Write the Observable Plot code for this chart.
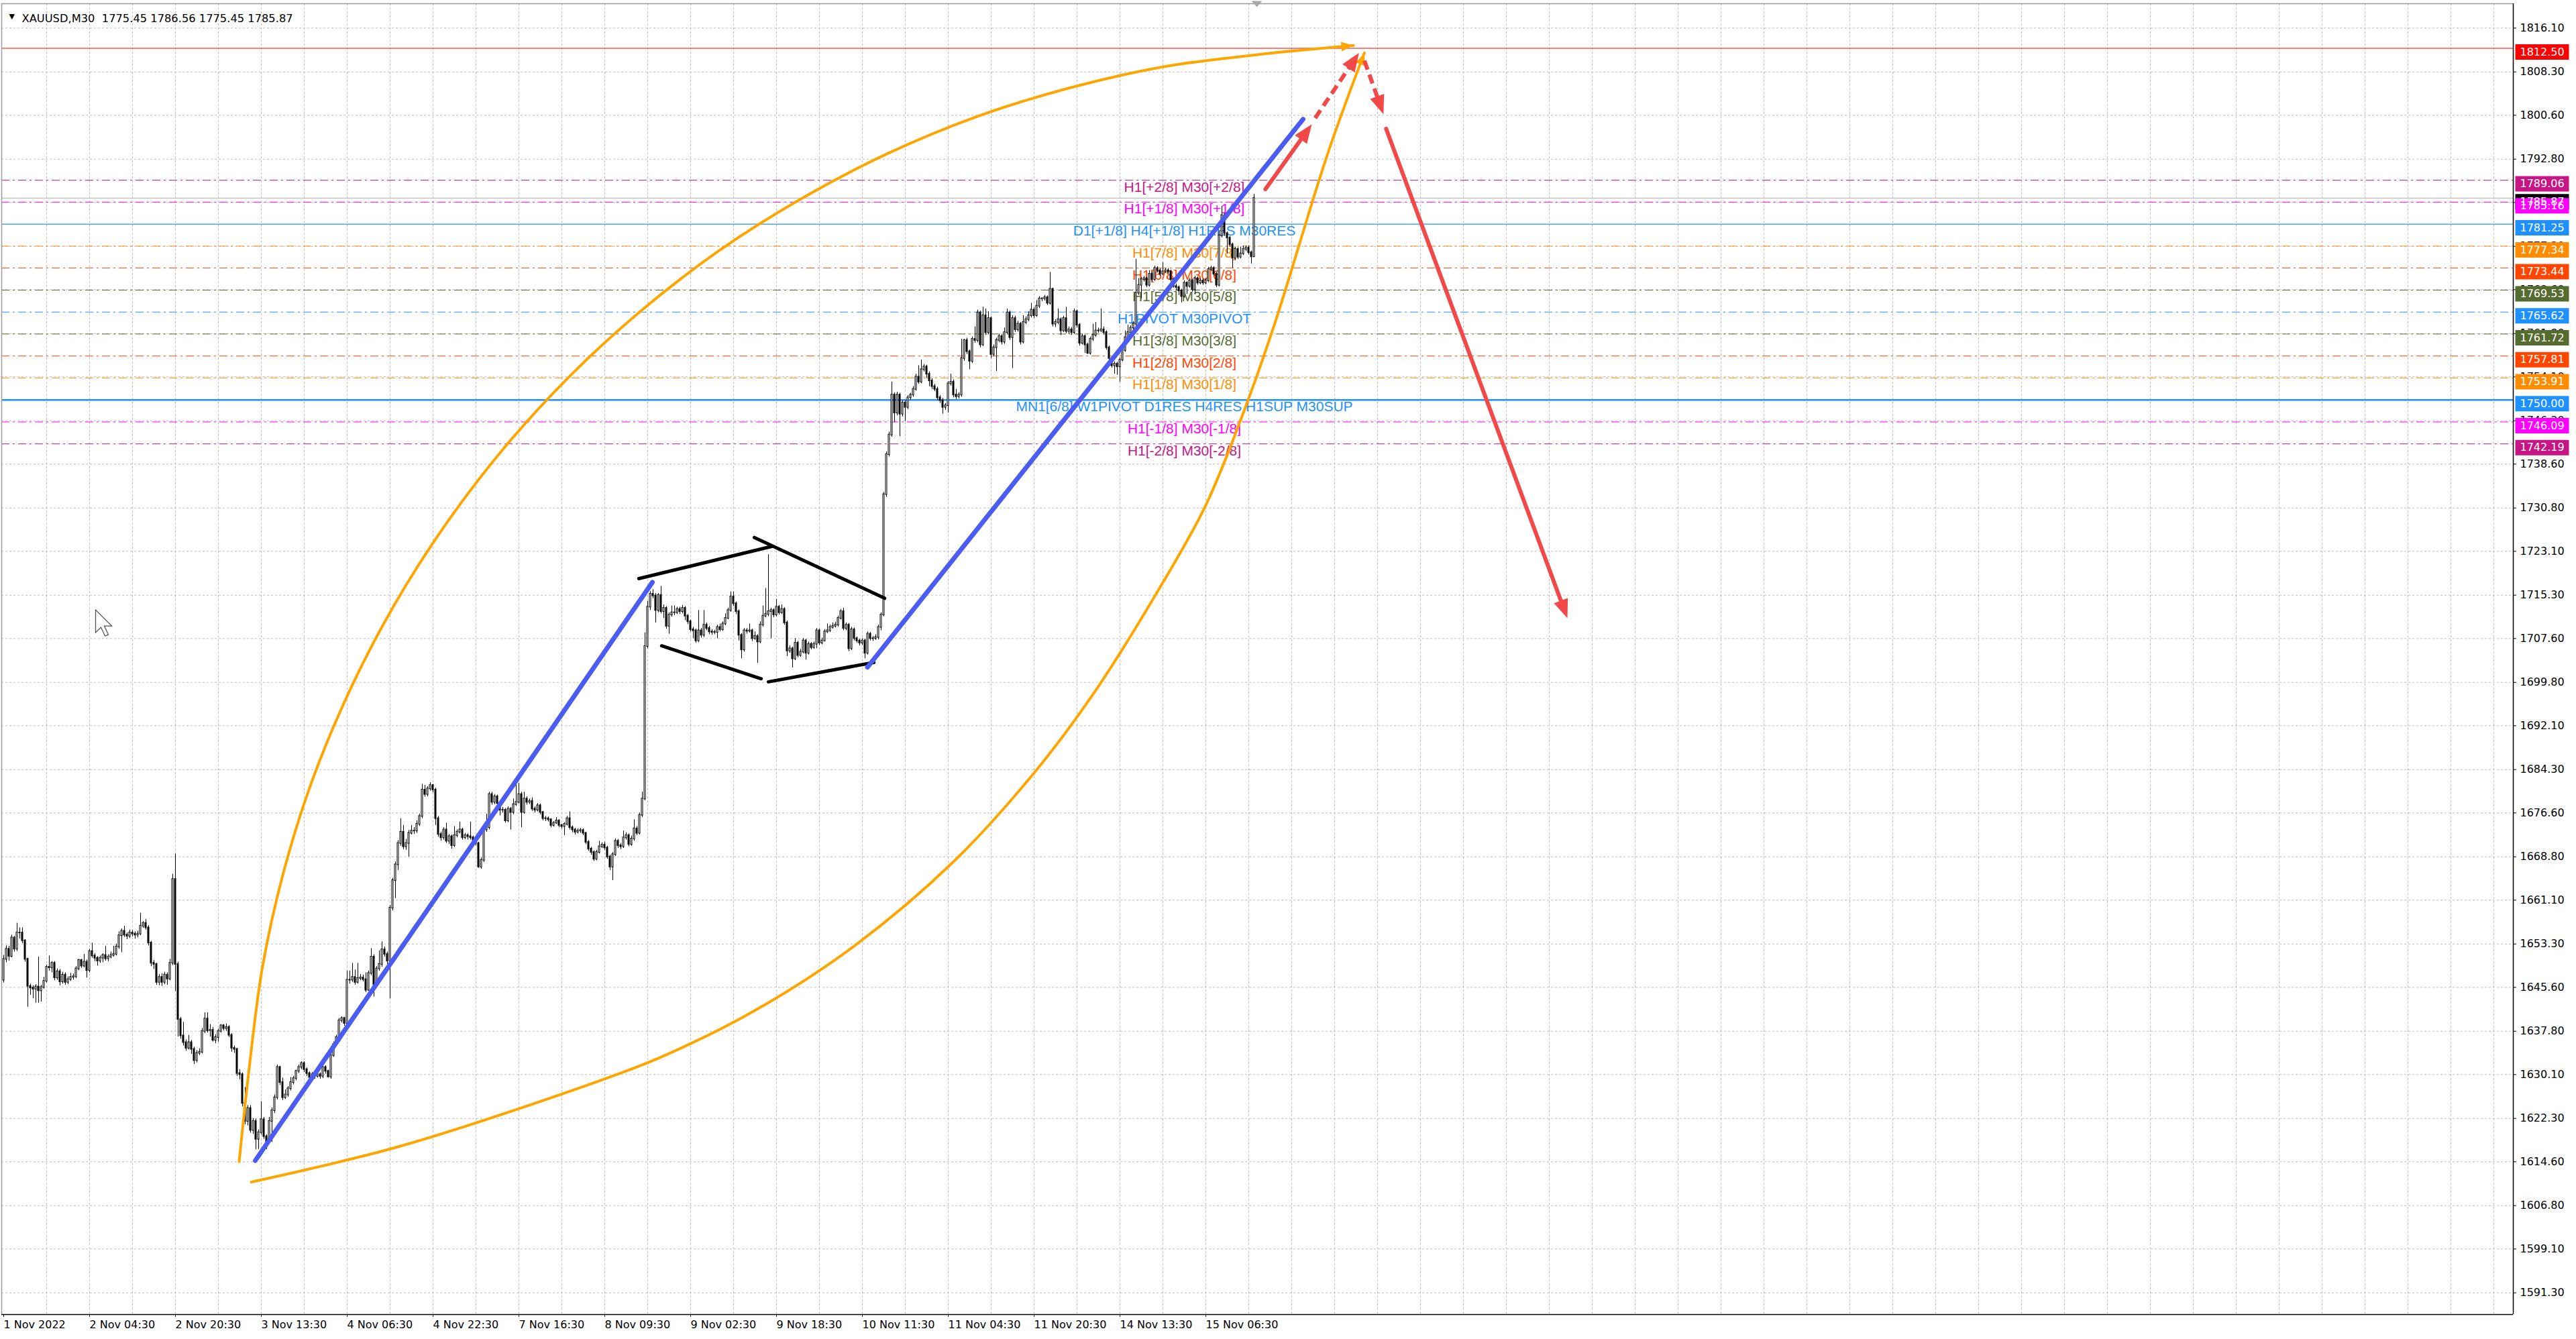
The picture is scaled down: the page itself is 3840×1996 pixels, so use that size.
<!DOCTYPE html>
<html>
<head>
<meta charset="utf-8">
<script src="https://cdn.jsdelivr.net/npm/d3@7"></script>
<script src="https://cdn.jsdelivr.net/npm/@observablehq/plot@0.6"></script>
<style>
html, body { margin: 0; padding: 0; background: #ffffff; overflow: hidden; }
#chart svg { display: block; }
</style>
</head>
<body>
<div id="chart"></div>
<script>
// ================= DATA =================
const symbolName = "XAUUSD";
const timeframe = "M30";
const firstOpen = 1646.9;

const closes = [
1650.6,1652.4,1651.1,1654.4,1652.4,1655.3,1655.3,1653.9,1650.6,1645.8,
1645.5,1645.3,1645.7,1645.0,1645.6,1646.7,1649.2,1649.1,1649.9,1647.3,
1648.4,1646.6,1647.8,1646.5,1647.0,1647.4,1647.5,1648.9,1650.4,1649.4,
1650.1,1648.6,1652.0,1651.2,1650.8,1650.3,1650.8,1651.3,1650.7,1651.0,
1651.3,1651.5,1652.8,1654.8,1655.6,1654.9,1654.7,1655.3,1655.1,1654.9,
1655.1,1656.5,1657.0,1656.2,1653.5,1649.9,1649.7,1646.5,1647.4,1646.5,
1647.8,1647.1,1649.9,1664.8,1649.7,1639.9,1637.0,1635.8,1634.8,1635.8,
1634.6,1632.6,1633.9,1634.1,1637.8,1640.0,1637.9,1638.0,1636.2,1636.7,
1637.8,1638.8,1638.3,1638.5,1637.1,1634.8,1634.6,1630.3,1630.1,1625.0,
1621.8,1624.1,1620.2,1621.8,1618.6,1619.8,1622.1,1619.1,1618.2,1621.8,
1623.7,1626.0,1631.4,1628.7,1626.0,1626.5,1627.6,1628.7,1629.4,1630.7,
1631.4,1632.1,1631.0,1630.3,1629.6,1630.1,1629.8,1630.1,1629.8,1631.4,
1630.7,1629.7,1633.5,1635.5,1636.7,1639.7,1640.1,1639.2,1646.9,1646.9,
1647.4,1646.5,1647.2,1647.3,1647.0,1645.1,1648.1,1651.0,1646.1,1648.9,
1649.7,1652.3,1651.5,1650.3,1659.7,1664.6,1667.4,1671.2,1673.2,1670.6,
1671.2,1673.0,1673.4,1673.4,1674.6,1676.0,1680.7,1679.9,1680.9,1681.5,
1680.7,1675.6,1672.8,1672.2,1673.6,1671.6,1672.4,1670.8,1672.6,1673.2,
1673.6,1672.2,1672.6,1672.4,1672.2,1671.8,1671.2,1667.0,1668.2,1673.6,
1674.0,1679.9,1678.5,1679.5,1678.3,1677.1,1677.1,1675.2,1677.3,1676.7,
1678.1,1678.5,1679.9,1676.7,1679.1,1678.5,1678.7,1677.3,1677.1,1677.9,
1676.7,1675.6,1675.6,1675.4,1674.4,1674.8,1675.2,1674.4,1674.2,1674.6,
1675.6,1674.0,1673.6,1673.2,1673.4,1673.5,1673.0,1671.4,1670.2,1669.6,
1668.4,1669.6,1670.6,1670.9,1670.4,1668.8,1667.0,1669.2,1671.6,1670.8,
1670.6,1672.2,1672.6,1671.0,1672.0,1673.8,1673.0,1676.2,1679.1,1706.2,
1713.2,1715.5,1715.2,1712.6,1715.3,1712.4,1713.0,1709.8,1711.8,1712.2,
1712.2,1712.8,1712.4,1713.0,1711.6,1710.6,1709.2,1709.0,1707.2,1709.0,
1708.2,1710.0,1709.4,1708.8,1708.7,1708.7,1709.6,1709.2,1710.2,1711.2,
1712.6,1715.0,1713.8,1712.4,1708.2,1705.6,1709.0,1708.9,1709.0,1707.6,
1708.0,1707.0,1710.0,1711.6,1711.9,1712.4,1712.6,1711.8,1713.2,1712.2,
1712.8,1710.4,1705.4,1705.8,1704.0,1706.8,1704.6,1705.2,1707.2,1705.0,
1706.6,1706.0,1706.6,1709.0,1706.8,1707.2,1708.8,1709.0,1709.6,1709.8,
1710.0,1711.2,1712.4,1709.4,1710.0,1705.8,1709.2,1707.6,1707.2,1706.8,
1707.2,1705.0,1708.4,1707.6,1707.6,1707.8,1709.6,1711.8,1733.2,1740.3,
1743.8,1750.9,1747.7,1750.9,1747.5,1749.5,1748.7,1750.4,1750.9,1751.9,
1754.1,1753.2,1755.4,1755.9,1754.6,1753.4,1752.4,1751.9,1750.4,1749.9,
1748.7,1749.0,1752.9,1753.2,1750.9,1750.6,1750.9,1757.4,1760.6,1758.6,
1756.9,1760.8,1760.6,1765.5,1759.8,1765.0,1762.0,1764.5,1758.1,1759.3,
1760.6,1761.3,1760.3,1762.0,1765.5,1761.1,1764.5,1762.5,1763.5,1760.3,
1763.8,1764.3,1765.0,1766.0,1765.0,1766.7,1768.0,1768.0,1768.2,1767.2,
1769.7,1763.5,1763.8,1764.3,1762.3,1764.5,1762.2,1762.5,1762.0,1765.7,
1763.3,1760.1,1761.3,1759.8,1758.3,1760.8,1761.5,1762.3,1762.3,1762.5,
1762.0,1759.3,1757.4,1756.1,1756.4,1755.9,1757.1,1758.8,1761.1,1762.0,
1762.8,1763.5,1769.0,1770.4,1771.4,1771.6,1770.4,1772.4,1771.4,1773.4,
1773.0,1772.4,1772.8,1773.0,1772.8,1771.4,1770.2,1770.0,1769.4,1768.4,
1770.8,1770.2,1771.2,1769.6,1771.6,1770.8,1771.2,1770.8,1771.2,1773.2,
1773.4,1772.4,1770.4,1779.2,1782.8,1779.6,1778.8,1777.6,1775.2,1776.8,
1775.4,1776.0,1776.8,1777.0,1776.2,1775.45,1785.87
];

const highs = [
1651.3,1653.0,1652.9,1654.9,1654.7,1657.0,1656.2,1656.2,1654.1,1650.8,
1646.2,1645.9,1646.1,1651.0,1646.0,1647.4,1649.6,1651.2,1650.2,1650.2,
1648.9,1648.8,1648.3,1648.2,1647.5,1648.1,1648.0,1649.3,1650.6,1650.6,
1651.5,1650.5,1652.4,1653.5,1651.6,1651.1,1651.2,1651.6,1652.9,1651.4,
1651.9,1652.9,1653.3,1655.5,1656.0,1656.5,1655.3,1655.8,1655.7,1655.5,
1655.6,1658.8,1657.3,1657.7,1656.6,1653.8,1650.4,1649.9,1647.9,1648.0,
1648.3,1648.2,1650.6,1665.7,1669.3,1650.1,1640.3,1639.4,1636.3,1637.1,
1636.2,1635.0,1634.4,1634.7,1638.3,1641.1,1641.1,1639.0,1638.5,1637.2,
1638.2,1639.0,1639.0,1639.1,1638.8,1637.4,1635.2,1634.8,1631.0,1630.4,
1627.8,1624.6,1624.6,1622.3,1622.2,1620.3,1625.3,1622.5,1619.4,1622.5,
1624.2,1626.5,1631.8,1631.6,1629.5,1627.4,1628.0,1629.6,1629.8,1630.9,
1631.8,1632.4,1632.4,1631.3,1630.6,1630.5,1630.4,1630.6,1630.4,1631.6,
1631.7,1630.9,1633.9,1635.9,1637.1,1640.1,1640.4,1640.3,1648.5,1648.5,
1649.9,1648.7,1649.9,1647.9,1647.8,1648.2,1648.5,1652.5,1651.4,1649.3,
1652.1,1653.7,1652.8,1651.9,1660.2,1665.0,1667.9,1671.7,1675.6,1674.4,
1671.9,1673.5,1674.4,1674.0,1675.2,1676.4,1681.7,1681.5,1681.3,1682.0,
1681.7,1681.0,1676.0,1673.2,1674.0,1674.8,1672.8,1672.7,1674.2,1673.6,
1675.0,1673.9,1673.0,1672.9,1675.0,1672.5,1672.1,1671.4,1668.6,1674.0,
1676.4,1680.3,1680.3,1679.9,1679.8,1678.6,1677.6,1677.4,1677.7,1677.6,
1679.1,1681.9,1681.9,1680.3,1680.3,1679.5,1679.1,1679.3,1677.7,1678.3,
1678.2,1676.9,1676.0,1675.9,1675.6,1675.1,1675.8,1675.4,1674.6,1674.9,
1676.0,1676.8,1674.3,1673.9,1673.8,1673.9,1673.8,1673.2,1671.7,1670.5,
1669.9,1670.0,1671.6,1671.3,1671.4,1670.7,1669.1,1669.6,1672.0,1671.9,
1671.2,1673.4,1673.1,1672.9,1672.5,1675.4,1674.2,1676.6,1680.3,1708.6,
1714.2,1716.0,1716.3,1715.6,1715.6,1716.9,1713.6,1713.3,1712.2,1713.4,
1713.4,1713.2,1713.2,1713.5,1713.3,1711.9,1710.9,1709.6,1709.3,1712.6,
1709.4,1712.6,1710.4,1709.8,1709.2,1709.1,1710.0,1710.2,1710.6,1712.0,
1713.0,1715.9,1715.9,1714.1,1712.7,1708.5,1709.4,1709.4,1710.2,1709.3,
1708.8,1708.3,1710.6,1713.4,1716.5,1722.5,1713.0,1712.9,1714.6,1713.5,
1713.6,1713.1,1710.7,1706.3,1706.1,1707.6,1707.1,1705.7,1707.6,1707.5,
1707.0,1706.9,1707.0,1709.4,1709.3,1707.7,1709.2,1710.2,1710.0,1710.4,
1710.5,1711.6,1712.8,1713.0,1710.4,1710.3,1709.6,1709.5,1707.9,1707.5,
1707.6,1707.5,1708.8,1708.7,1708.0,1708.3,1710.0,1712.2,1733.6,1740.8,
1744.3,1753.2,1751.3,1751.4,1751.2,1749.9,1749.9,1750.8,1751.2,1752.4,
1754.6,1756.1,1757.1,1756.3,1756.2,1755.0,1753.8,1752.8,1752.3,1750.8,
1750.3,1749.4,1753.3,1754.6,1753.6,1751.9,1751.3,1760.8,1760.8,1761.0,
1758.9,1761.2,1763.0,1766.0,1765.8,1766.5,1766.2,1765.7,1764.8,1759.8,
1761.0,1761.7,1761.6,1762.8,1766.2,1765.8,1765.0,1764.9,1764.0,1763.8,
1765.0,1764.8,1765.7,1767.2,1766.4,1767.7,1768.4,1768.2,1768.6,1768.5,
1772.7,1769.9,1764.3,1766.2,1764.6,1764.9,1766.5,1763.0,1762.9,1766.2,
1766.0,1763.6,1761.7,1761.6,1760.1,1761.2,1763.5,1763.8,1762.8,1766.2,
1763.0,1762.3,1759.6,1757.7,1756.8,1756.7,1757.5,1759.8,1762.3,1763.3,
1763.2,1763.9,1775.0,1771.6,1771.8,1772.0,1771.9,1773.0,1772.8,1773.8,
1773.7,1773.3,1774.4,1773.4,1773.4,1773.1,1771.7,1770.6,1770.3,1769.7,
1771.2,1771.0,1771.6,1771.5,1772.0,1771.9,1771.6,1771.5,1771.6,1773.6,
1773.8,1773.7,1772.7,1780.0,1784.4,1783.2,1779.9,1779.1,1777.9,1777.2,
1777.1,1777.2,1777.4,1777.4,1777.4,1776.5,1786.56
];

const lows = [
1646.4,1650.0,1650.3,1650.9,1651.9,1652.0,1654.2,1653.4,1650.1,1642.1,
1644.2,1643.6,1642.8,1642.8,1643.0,1645.3,1646.4,1648.5,1648.2,1646.8,
1646.9,1645.9,1646.2,1646.0,1646.1,1646.7,1646.9,1647.2,1648.6,1649.0,
1649.1,1647.3,1648.2,1650.8,1650.2,1649.4,1649.9,1650.0,1650.3,1650.2,
1650.7,1651.0,1651.2,1652.4,1651.8,1654.5,1654.1,1654.3,1654.6,1654.2,
1654.4,1654.8,1656.1,1655.8,1653.0,1649.3,1648.8,1646.0,1645.9,1645.8,
1646.1,1646.0,1646.8,1649.5,1644.9,1636.8,1636.4,1635.2,1634.3,1634.5,
1633.7,1631.9,1632.2,1633.5,1633.8,1637.4,1637.5,1636.8,1635.9,1635.6,
1635.9,1637.5,1637.9,1637.8,1636.7,1634.1,1633.9,1629.8,1629.2,1624.4,
1621.2,1621.0,1619.7,1619.5,1616.8,1616.8,1619.4,1618.6,1616.8,1617.9,
1618.1,1623.2,1625.6,1628.2,1625.5,1625.7,1626.1,1627.2,1628.3,1629.0,
1630.3,1631.0,1630.5,1629.8,1629.1,1629.2,1629.3,1629.5,1629.3,1629.4,
1630.2,1629.5,1629.3,1633.2,1635.1,1636.4,1639.3,1638.7,1638.9,1646.2,
1646.5,1646.0,1646.2,1646.8,1646.6,1644.7,1644.9,1647.7,1643.9,1645.7,
1648.5,1649.2,1651.0,1649.7,1643.6,1659.2,1661.4,1666.4,1670.7,1670.1,
1670.0,1668.8,1672.7,1672.8,1673.0,1674.2,1675.6,1679.4,1679.5,1680.5,
1680.2,1674.4,1672.3,1671.6,1671.8,1671.2,1671.0,1670.2,1670.5,1672.2,
1672.9,1671.8,1671.9,1671.8,1671.8,1671.3,1670.8,1666.8,1666.6,1667.8,
1673.2,1673.6,1678.0,1678.1,1677.8,1676.1,1676.6,1674.8,1674.9,1673.6,
1676.3,1677.8,1678.2,1674.0,1676.4,1678.0,1678.1,1676.9,1676.6,1676.8,
1676.3,1675.2,1675.1,1675.0,1674.0,1674.1,1674.6,1674.0,1673.8,1672.6,
1674.3,1673.6,1673.1,1672.7,1672.9,1673.0,1672.6,1671.0,1669.8,1669.1,
1668.0,1668.1,1669.3,1670.3,1670.0,1668.4,1666.4,1664.6,1668.9,1670.3,
1670.1,1670.3,1671.8,1670.6,1670.7,1671.6,1672.6,1672.7,1675.8,1678.8,
1705.8,1712.6,1714.7,1710.4,1712.2,1712.0,1711.2,1709.3,1708.4,1711.4,
1711.7,1711.9,1711.9,1712.0,1710.8,1710.1,1708.8,1707.6,1706.8,1706.9,
1707.7,1707.8,1709.0,1708.3,1708.2,1708.3,1707.6,1708.8,1708.9,1709.9,
1711.0,1712.3,1713.3,1711.9,1707.2,1704.0,1705.2,1708.4,1708.6,1707.1,
1707.3,1703.2,1706.7,1709.7,1711.3,1711.5,1707.6,1711.3,1711.5,1711.8,
1711.9,1710.0,1704.4,1705.0,1702.4,1703.7,1704.2,1704.3,1704.9,1703.8,
1704.7,1705.6,1705.7,1705.8,1706.4,1706.5,1707.0,1708.5,1708.7,1709.3,
1709.5,1709.7,1710.9,1709.0,1709.0,1705.3,1705.5,1707.2,1706.8,1706.3,
1706.4,1704.0,1704.7,1707.2,1707.1,1707.3,1707.4,1709.0,1711.5,1732.7,
1739.9,1743.4,1746.0,1747.2,1743.5,1747.0,1746.2,1748.3,1750.0,1750.5,
1751.6,1752.8,1752.9,1755.0,1753.9,1752.4,1751.9,1751.5,1749.9,1749.4,
1747.5,1748.2,1747.7,1752.5,1750.4,1750.1,1750.2,1750.5,1756.9,1758.1,
1755.4,1756.5,1760.1,1760.2,1759.3,1759.5,1761.5,1761.6,1757.4,1757.7,
1755.1,1760.2,1759.8,1759.9,1761.6,1760.6,1755.6,1762.0,1762.1,1759.8,
1760.0,1763.4,1763.9,1764.6,1764.5,1764.7,1766.3,1767.5,1767.6,1766.8,
1766.9,1763.0,1762.9,1763.4,1761.5,1762.0,1761.8,1761.7,1761.5,1761.7,
1762.8,1759.6,1759.8,1758.3,1758.1,1758.0,1760.4,1761.2,1761.9,1762.0,
1761.6,1758.9,1757.1,1755.7,1754.6,1754.4,1753.2,1756.8,1758.5,1760.8,
1761.7,1762.4,1763.1,1768.6,1768.0,1771.0,1770.0,1770.1,1771.0,1771.1,
1772.6,1772.0,1772.1,1772.5,1772.4,1771.0,1769.9,1769.4,1768.6,1767.3,
1768.1,1768.8,1769.9,1769.2,1768.8,1770.4,1770.5,1770.4,1770.5,1770.9,
1772.9,1772.0,1770.0,1770.1,1778.8,1779.1,1776.0,1777.2,1773.4,1774.8,
1775.0,1775.1,1775.7,1776.4,1775.8,1774.2,1775.45
];

// time axis: bar index of each label and its text
const xTickBars = [0, 32, 64, 96, 128, 160, 192, 224, 256, 288, 320, 352, 384, 416, 448];
const xTickLabels = ["1 Nov 2022", "2 Nov 04:30", "2 Nov 20:30", "3 Nov 13:30", "4 Nov 06:30",
  "4 Nov 22:30", "7 Nov 16:30", "8 Nov 09:30", "9 Nov 02:30", "9 Nov 18:30",
  "10 Nov 11:30", "11 Nov 04:30", "11 Nov 20:30", "14 Nov 13:30", "15 Nov 06:30"];

// price axis ticks
const yTicks = [1591.30, 1599.10, 1606.80, 1614.60, 1622.30, 1630.10, 1637.80, 1645.60, 1653.30,
  1661.10, 1668.80, 1676.60, 1684.30, 1692.10, 1699.80, 1707.60, 1715.30, 1723.10, 1730.80,
  1738.60, 1746.30, 1754.10, 1761.80, 1769.60, 1777.30, 1785.10, 1792.80, 1800.60, 1808.30, 1816.10];

// Murrey math levels
const murreyPrices = [1789.06, 1785.16, 1781.25, 1777.34, 1773.44, 1769.53, 1765.62,
  1761.72, 1757.81, 1753.91, 1750.00, 1746.09, 1742.19];
const murreyLabels = ["H1[+2/8] M30[+2/8]", "H1[+1/8] M30[+1/8]", "D1[+1/8] H4[+1/8] H1RES M30RES",
  "H1[7/8] M30[7/8]", "H1[6/8] M30[6/8]", "H1[5/8] M30[5/8]", "H1PIVOT M30PIVOT",
  "H1[3/8] M30[3/8]", "H1[2/8] M30[2/8]", "H1[1/8] M30[1/8]",
  "MN1[6/8] W1PIVOT D1RES H4RES H1SUP M30SUP", "H1[-1/8] M30[-1/8]", "H1[-2/8] M30[-2/8]"];
const resistanceLevel = 1812.50;

// hand-drawn objects (bar index, price)
const blueTrendLines = [
  {x1: 93.75, y1: 1614.8, x2: 241.75, y2: 1717.6},
  {x1: 321.9, y1: 1702.5, x2: 484.25, y2: 1799.9}
];
const triangleLines = [
  {x1: 236.7, y1: 1718.25, x2: 286.25, y2: 1723.97},
  {x1: 279.75, y1: 1725.56, x2: 328.3, y2: 1714.75},
  {x1: 245.2, y1: 1706.3, x2: 282.3, y2: 1700.45},
  {x1: 285.0, y1: 1699.9, x2: 324.3, y2: 1703.35}
];
const upperArc = [
  [87.75,1614.6],[91.7,1632.1],[96.4,1649.1],[104.2,1665.9],[115.0,1682.4],[128.9,1698.3],
  [145.5,1713.5],[164.9,1728.0],[186.9,1741.7],[211.3,1754.4],[237.9,1766.0],[266.5,1776.5],
  [297.0,1785.7],[329.0,1793.7],[362.3,1800.3],[396.8,1805.4],[432.0,1809.2],[467.8,1811.4],[503.0,1813.0]
];
const lowerArc = [
  [92.3,1611.0],[148.75,1617.5],[229.6,1630.3],[248.75,1634.0],[280.4,1641.6],[317.1,1653.0],
  [353.9,1667.9],[384.5,1684.0],[406.7,1698.2],[428.7,1714.9],[447.9,1731.2],[462.2,1748.0],
  [473.5,1763.3],[493.3,1793.6],[507.1,1811.7]
];
const redArrows = [
  {x1: 470.2, y1: 1787.45, x2: 487.5, y2: 1799.0, dashed: false},
  {x1: 488.75, y1: 1800.1, x2: 505.1, y2: 1811.7, dashed: true},
  {x1: 507.1, y1: 1810.3, x2: 514.2, y2: 1800.8, dashed: true},
  {x1: 515.2, y1: 1798.2, x2: 582.75, y2: 1711.2, dashed: false}
];
const cursorAt = [34.25, 1712.7];
const shiftMarkerBar = 467;
const murreyLabelBar = 440;

// ================= STYLE =================
const W = 3840, H = 1996;
const mL = 2, mR = 94, mT = 5, mB = 37;
const xDomain = [-0.75, 935.25];
const yDomain = [1587.45, 1820.43];
const murreyColors = ["#c71585", "#ff00ff", "#1e90ff", "#ff8c00", "#ff4500", "#556b2f", "#1e90ff",
  "#556b2f", "#ff4500", "#ff8c00", "#1e90ff", "#ff00ff", "#c71585"];
const murreyKind = ["dash", "dash", "thin", "dash", "dash", "dash", "dash", "dash", "dash", "dash", "thick", "dash", "dash"];
const gridColor = "#bdbdbd";
const blueColor = "#4a5cf2";
const redColor = "#f24848";
const orangeColor = "#ffa500";

// ================= BUILD =================
const bars = closes.map((c, i) => ({
  i, open: i ? closes[i - 1] : firstOpen, close: c, high: highs[i], low: lows[i]
}));
const last = bars[bars.length - 1];
const bull = bars.filter(d => d.close >= d.open);
const bear = bars.filter(d => d.close < d.open);

const murrey = murreyPrices.map((p, k) => ({price: p, label: murreyLabels[k], color: murreyColors[k], kind: murreyKind[k]}));
const tags = [
  {price: last.close, color: "#000000"},
  {price: resistanceLevel, color: "#ff0000"},
  ...murrey.map(m => ({price: m.price, color: m.color}))
];
const tickText = new Map(xTickBars.map((b, k) => [b, xTickLabels[k]]));

const xs = Plot.scale({x: {domain: xDomain, range: [mL, W - mR]}});
const ys = Plot.scale({y: {domain: yDomain, range: [H - mB, mT]}});
function arrowParts(a, headLen) {
  const p1 = [xs.apply(a.x1), ys.apply(a.y1)], p2 = [xs.apply(a.x2), ys.apply(a.y2)];
  const dx = p2[0] - p1[0], dy = p2[1] - p1[1], L = Math.hypot(dx, dy);
  const k = headLen * 0.7 / L;
  return {x1: a.x1, y1: a.y1, ex: xs.invert(p2[0] - dx * k), ey: ys.invert(p2[1] - dy * k),
          tx: a.x2, ty: a.y2, angle: Math.atan2(dx, -dy) * 180 / Math.PI, dashed: a.dashed};
}
const redParts = redArrows.map(a => arrowParts(a, 28));
function arcHead(pts) {
  const a = pts[pts.length - 2], b = pts[pts.length - 1];
  const dx = xs.apply(b[0]) - xs.apply(a[0]), dy = ys.apply(b[1]) - ys.apply(a[1]);
  return {tx: b[0], ty: b[1], angle: Math.atan2(dx, -dy) * 180 / Math.PI};
}
const arcHeads = [arcHead(upperArc), arcHead(lowerArc)];

function headSymbol(len, wid) {
  return {draw(ctx) { ctx.moveTo(0, 0); ctx.lineTo(-wid / 2, len); ctx.lineTo(wid / 2, len); ctx.closePath(); }};
}
const tagSymbol = {draw(ctx) { ctx.rect(3, -6, 80, 23); }};
const cursorSymbol = {draw(ctx) {
  ctx.moveTo(0, 0); ctx.lineTo(0, 34); ctx.lineTo(8, 26); ctx.lineTo(14, 39);
  ctx.lineTo(19, 37); ctx.lineTo(13, 24); ctx.lineTo(24, 24); ctx.closePath();
}};
const shiftSymbol = {draw(ctx) { ctx.moveTo(-8, -4); ctx.lineTo(8, -4); ctx.lineTo(0, 5); ctx.closePath(); }};

const header = `${symbolName},${timeframe}\u00a0\u00a0${last.open.toFixed(2)} ${last.high.toFixed(2)} ${last.low.toFixed(2)} ${last.close.toFixed(2)}`;

const chart = Plot.plot({
  width: W, height: H,
  marginLeft: mL, marginRight: mR, marginTop: mT, marginBottom: mB,
  x: {domain: xDomain},
  y: {domain: yDomain},
  style: {background: "#ffffff", fontFamily: "'DejaVu Sans', sans-serif", fontSize: "16px", color: "#000", overflow: "visible"},
  marks: [
    // grid
    Plot.gridX(d3.range(16, 936, 16), {stroke: gridColor, strokeOpacity: 1, strokeDasharray: "3,3"}),
    Plot.gridY(yTicks, {stroke: gridColor, strokeOpacity: 1, strokeDasharray: "3,3"}),
    // levels
    Plot.ruleY(murrey.filter(m => m.kind === "dash"), {y: "price", stroke: "color", strokeWidth: 1, strokeDasharray: "12,5,3,5"}),
    Plot.ruleY(murrey.filter(m => m.kind === "thin"), {y: "price", stroke: "color", strokeWidth: 1.2}),
    Plot.ruleY(murrey.filter(m => m.kind === "thick"), {y: "price", stroke: "color", strokeWidth: 2.5}),
    Plot.ruleY([resistanceLevel], {stroke: "#ff0000", strokeWidth: 1.2}),
    Plot.ruleY([last.close], {stroke: "#c0c0c0", strokeWidth: 1.2}),
    Plot.text(murrey, {x: () => murreyLabelBar, y: "price", text: "label", fill: "color",
      lineAnchor: "top", dy: 2, textAnchor: "middle", fontSize: 21,
      fontFamily: "'Liberation Sans', Arial, sans-serif"}),
    // candles
    Plot.ruleX(bars, {x: "i", y1: "low", y2: "high", stroke: "#000", strokeWidth: 1}),
    Plot.rect(bull, {x1: d => d.i - 0.5, x2: d => d.i + 0.5, y1: "open", y2: "close",
      insetLeft: 1, insetRight: 1, insetTop: -0.5, insetBottom: -0.5, fill: "#fff", stroke: "#000", strokeWidth: 1}),
    Plot.rect(bear, {x1: d => d.i - 0.5, x2: d => d.i + 0.5, y1: "open", y2: "close",
      insetLeft: 1, insetRight: 1, insetTop: -0.5, insetBottom: -0.5, fill: "#000", stroke: "#000", strokeWidth: 1}),
    // drawings
    Plot.line(upperArc, {x: d => d[0], y: d => d[1], curve: "catmull-rom", stroke: orangeColor, strokeWidth: 4}),
    Plot.line(lowerArc, {x: d => d[0], y: d => d[1], curve: "catmull-rom", stroke: orangeColor, strokeWidth: 4}),
    Plot.dot(arcHeads, {x: "tx", y: "ty", rotate: "angle", symbol: headSymbol(18, 14), fill: orangeColor, stroke: "none"}),
    Plot.link(triangleLines, {x1: "x1", y1: "y1", x2: "x2", y2: "y2", stroke: "#000", strokeWidth: 5, strokeLinecap: "round"}),
    Plot.link(blueTrendLines, {x1: "x1", y1: "y1", x2: "x2", y2: "y2", stroke: blueColor, strokeWidth: 7, strokeLinecap: "round"}),
    Plot.link(redParts.filter(d => !d.dashed), {x1: "x1", y1: "y1", x2: "ex", y2: "ey", stroke: redColor, strokeWidth: 6, strokeLinecap: "round"}),
    Plot.link(redParts.filter(d => d.dashed), {x1: "x1", y1: "y1", x2: "ex", y2: "ey", stroke: redColor, strokeWidth: 6, strokeLinecap: "butt", strokeDasharray: "14,8"}),
    Plot.dot(redParts, {x: "tx", y: "ty", rotate: "angle", symbol: headSymbol(28, 22), fill: redColor, stroke: "none"}),
    // frame
    Plot.ruleX([xDomain[0]], {stroke: "#9a9a9a", strokeWidth: 1.5}),
    Plot.ruleY([yDomain[1]], {stroke: "#9a9a9a", strokeWidth: 1.5}),
    Plot.ruleX([xDomain[1]], {stroke: "#000", strokeWidth: 1.5}),
    Plot.ruleY([yDomain[0]], {stroke: "#000", strokeWidth: 1.5}),
    // axes
    Plot.axisY(yTicks, {anchor: "right", tickSize: 4, tickPadding: 6, tickFormat: d => d.toFixed(2), fontSize: 16, label: null}),
    Plot.axisX(xTickBars, {anchor: "bottom", tickSize: 4, tickPadding: 5, tickFormat: d => tickText.get(d), textAnchor: "start", fontSize: 16, label: null}),
    // price tags
    Plot.dot(tags, {y: "price", frameAnchor: "right", symbol: tagSymbol, fill: "color", stroke: "none"}),
    Plot.text(tags, {y: "price", frameAnchor: "right", dx: 10, dy: 5.5, textAnchor: "start", text: d => d.price.toFixed(2), fill: "#fff", fontSize: 16}),
    // header & misc
    Plot.text(["\u25BC"], {frameAnchor: "top-left", text: d => d, dx: 11, dy: 15, fontSize: 11, fill: "#000"}),
    Plot.text([header], {frameAnchor: "top-left", text: d => d, dx: 30, dy: 16, textAnchor: "start", fontSize: 16.3, fill: "#000"}),
    Plot.dot([shiftMarkerBar], {x: d => d, frameAnchor: "top", symbol: shiftSymbol, fill: "#a8a8a8", stroke: "none"}),
    Plot.dot([cursorAt], {x: d => d[0], y: d => d[1], symbol: cursorSymbol, fill: "#fff", stroke: "#555", strokeWidth: 1.3})
  ]
});
document.getElementById("chart").appendChild(chart);
</script>
</body>
</html>
